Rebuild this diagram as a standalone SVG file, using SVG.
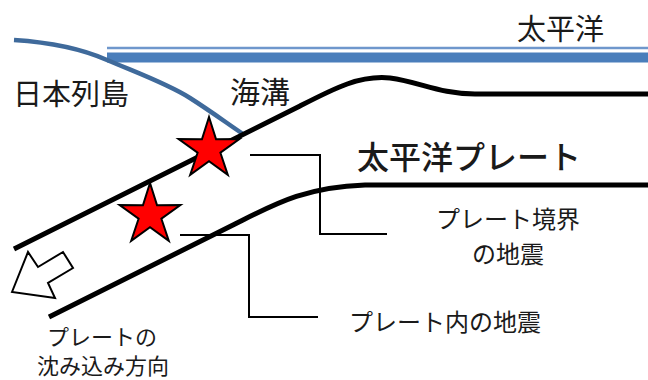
<svg xmlns="http://www.w3.org/2000/svg" width="648" height="380" viewBox="0 0 648 380">
  <style>
    .txt { font-family: "Noto Sans CJK JP", "Noto Sans CJK SC", sans-serif; fill: #1a1a1a; }
    .plate { fill: none; stroke: #000; stroke-width: 5; stroke-linecap: butt; }
    .leader { fill: none; stroke: #000; stroke-width: 2; }
    .quake { fill: #ff0000; stroke: #000; stroke-width: 2; stroke-linejoin: miter; }
  </style>
  <defs>
    <!-- five-pointed star, outer radius 32, centred on origin -->
    <polygon id="star" points="0,-32 7.05,-9.7 30.4,-9.9 11.4,3.7 18.8,25.9 0,12.2 -18.8,25.9 -11.4,3.7 -30.4,-9.9 -7.05,-9.7"/>
  </defs>
  <rect width="648" height="380" fill="#fff"/>

  <!-- sea surface (double line) -->
  <g id="ocean">
    <line x1="107" y1="48" x2="648" y2="48" stroke="#6f97cc" stroke-width="2.5"/>
    <line x1="107" y1="57.5" x2="648" y2="57.5" stroke="#4a7ebb" stroke-width="10"/>
  </g>

  <!-- land surface of the Japanese islands -->
  <g id="coast">
    <path d="M14,40 C45,42 80,48 107,60 C140,74 168,84 190,98 C212,112 228,124 243,134" fill="none" stroke="#3f6a9b" stroke-width="4.5"/>
  </g>

  <!-- subducting plate, upper and lower surfaces -->
  <g id="plate">
    <path class="plate" d="M14,249 L300,106 C335,88 360,75 390,78 C420,82 440,94 475,94 L648,94"/>
    <path class="plate" d="M49,317 L235,224 C275,204 305,187 365,185 L648,185"/>
  </g>

  <!-- subduction direction arrow -->
  <g id="arrow">
    <polygon points="12,292 28,252 38,267 63,252 73,268 48,283 55,298" fill="#fff" stroke="#000" stroke-width="2" stroke-linejoin="miter"/>
  </g>

  <!-- earthquake markers -->
  <g id="quake-boundary">
    <use href="#star" class="quake" transform="translate(209,149)"/>
  </g>
  <g id="quake-intraplate">
    <use href="#star" class="quake" transform="translate(150,215)"/>
  </g>

  <!-- leader lines -->
  <g id="connectors">
    <polyline class="leader" points="250,155 320,155 320,234 387,234"/>
    <polyline class="leader" points="180,235 249,235 249,317 318,317"/>
  </g>

  <!-- labels -->
  <g id="label-pacific">
    <text class="txt" x="517" y="40" font-size="29">太平洋</text>
  </g>
  <g id="label-japan">
    <text class="txt" x="13" y="105" font-size="29">日本列島</text>
  </g>
  <g id="label-trench">
    <text class="txt" x="230" y="103" font-size="30">海溝</text>
  </g>
  <g id="label-plate">
    <text class="txt" x="357" y="169" font-size="32" font-weight="500" fill="#000">太平洋プレート</text>
  </g>
  <g id="label-boundary-quake">
    <text class="txt" x="508" y="228" font-size="24" text-anchor="middle">プレート境界</text>
    <text class="txt" x="508" y="263" font-size="24" text-anchor="middle">の地震</text>
  </g>
  <g id="label-intraplate-quake">
    <text class="txt" x="349" y="331" font-size="24">プレート内の地震</text>
  </g>
  <g id="label-direction">
    <text class="txt" x="102" y="345" font-size="22" text-anchor="middle">プレートの</text>
    <text class="txt" x="103" y="374" font-size="22" text-anchor="middle">沈み込み方向</text>
  </g>
</svg>
